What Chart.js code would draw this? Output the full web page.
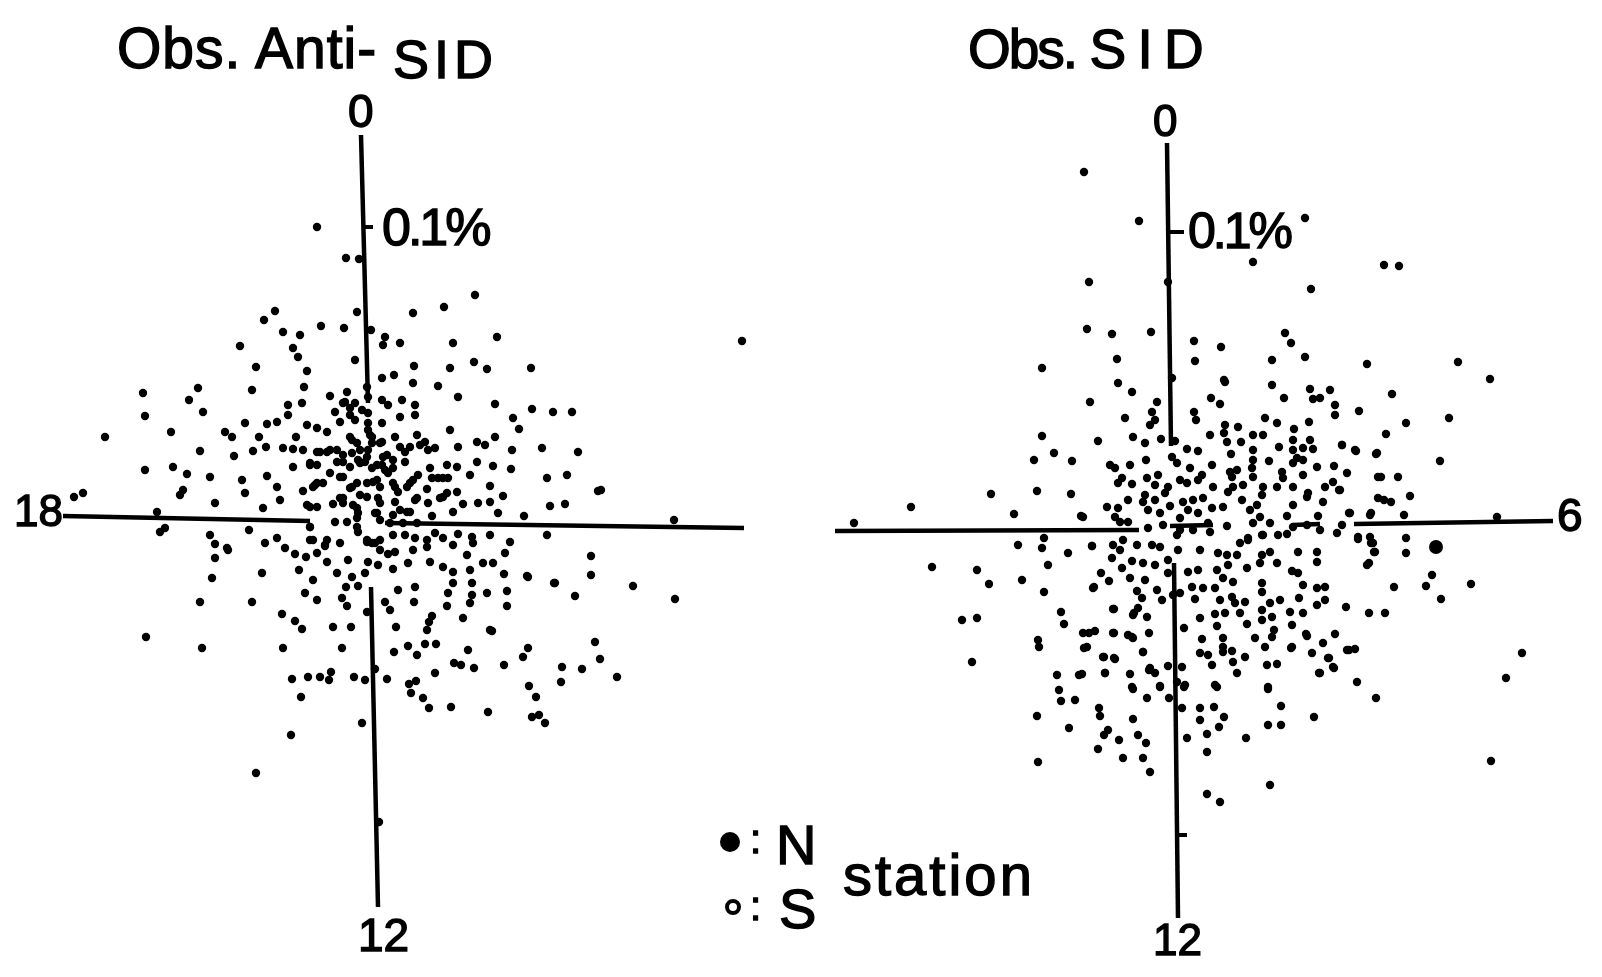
<!DOCTYPE html>
<html>
<head>
<meta charset="utf-8">
<title>Obs. Anti-SID / Obs. SID</title>
<script src="https://cdn.jsdelivr.net/npm/chart.js@4"></script>
<style>
  html, body { margin: 0; padding: 0; background: #fff; }
  #page { position: relative; width: 1602px; height: 977px; overflow: hidden; }
  canvas { position: absolute; top: 0; }
  .lbl { position: absolute; font-family: 'Liberation Sans', sans-serif; color: #000; line-height: 0; white-space: nowrap; -webkit-text-stroke: 1.4px #000; }
</style>
</head>
<body>
<div id="page">
  <canvas id="anti-sid" width="800" height="977" style="left:0"></canvas>
  <canvas id="sid" width="802" height="977" style="left:800px"></canvas>
</div>
<script>
'use strict';

// amplitude units: 295 units = 0.1 %, x towards 6h, y towards 0h
const antiSidPoints = [
  [-53,295],[-24,264],[-11,263],[105,227],[74,215],[43,209],[-13,210],[-95,211],[-106,202],[-49,196],
  [-26,194],[-87,190],[-70,187],[-130,176],[-77,174],[-72,165],[1,192],[15,185],[13,177],[30,179],
  [83,179],[127,185],[372,181],[-15,162],[104,160],[117,153],[80,154],[44,156],[161,154],[-114,155],
  [-63,151],[12,144],[24,147],
  // upper left
  [-296,25],[-287,29],[-265,85],[-227,129],[-225,106],[-213,10],[-210,-10],[-205,-6],[-225,52],[-197,55],
  [-183,48],[-190,27],[-187,32],[-160,45],[-155,19],[-170,71],[-199,90],[-181,122],[-172,134],[-167,110],
  [-118,132],[-66,135],[-68,119],[-82,117],[-82,107],[-125,99],[-103,98],[-93,100],[-145,90],[-138,85],
  [-111,85],[-74,85],[-63,97],[-53,94],[-104,75],[-117,71],[-136,66],[-87,74],[-77,73],[-67,72],
  [-53,70],[-60,57],[-77,55],[-128,42],[-103,46],[-125,29],[-93,35],[-67,31],[-55,37],[-90,22],
  [-107,14],[-60,15],[-121,-8],[-160,-13],[-155,-22],[-105,-21],[-143,-26],[-60,-5],[-60,-18],
  // upper right
  [-40,126],[-23,130],[-3,135],[-2,125],[43,139],[68,136],[88,125],[125,118],[162,113],[183,110],
  [202,110],[143,104],[149,93],[172,74],[208,70],[142,72],[125,85],[107,80],[115,77],[80,92],
  [88,75],[-25,120],[-15,119],[-35,110],[-20,107],[12,122],[18,117],[32,122],[30,105],[45,107],
  [45,117],[12,99],[-2,99],[-43,90],[-18,82],[0,87],[25,85],[47,87],[55,80],[65,74],
  [58,72],[10,79],[-50,70],[-40,72],[-27,60],[-18,69],[-2,72],[-5,60],[17,67],[12,57],
  [35,70],[35,60],[-40,49],[-27,45],[2,54],[18,49],[40,39],[48,47],[60,54],[77,57],
  [87,55],[107,60],[123,56],[141,53],[100,47],[73,44],[120,36],[177,44],[197,47],[-53,39],
  [-18,35],[3,40],[25,35],[57,33],[73,25],[87,30],[93,18],[108,19],[120,20],[133,26],
  [180,16],[195,18],[228,31],[231,32],[-37,18],[-27,24],[-13,14],[-3,25],[8,24],[25,20],
  [45,22],[58,19],[40,10],[83,10],[62,6],[128,9],[154,6],[-35,0],[-23,0],[7,9],
  [-13,-5],[23,7],[177,-13],[65,-11],[73,-16],[88,-12],[102,-15],[120,-13],[140,-20],[-30,-21],
  [-45,-23],[23,-13],[35,-13],[45,-16],[57,-18],[2,-21],[10,-18],[83,-23],[103,-21],
  // dense core
  [-27,119],[-20,114],[-15,102],[-8,112],[-2,109],[-30,100],[-2,92],[2,85],[-20,85],[-13,79],
  [-10,72],[2,79],[12,80],[-3,65],[-10,59],[-33,72],[-27,67],[-43,70],[-60,59],[-53,57],
  [-33,60],[-20,55],[-30,45],[-12,62],[7,57],[23,62],[13,65],[30,75],[40,75],[50,77],
  [15,52],[23,54],[43,42],[37,35],[68,44],[78,44],[62,44],[-57,35],[-47,39],[-20,34],
  [-13,39],[-3,39],[7,42],[10,35],[23,39],[28,30],[-10,27],[10,19],[30,12],[47,24],
  [37,10],[70,24],[77,29],[-53,15],[-63,17],[-30,24],[-27,19],[-17,17],[-12,9],[5,9],
  [10,2],[-13,4],[-12,-10],[20,-1],[33,-1],[47,-1],[-60,-5],[-57,-18],[5,-21],[-3,-18],
  // lower middle
  [-93,-16],[-85,-26],[-75,-32],[-64,-35],[-53,-31],[-43,-18],[-45,-24],[-3,-20],[10,-28],[18,-32],
  [25,-30],[43,-28],[57,-25],[97,-33],[135,-31],[113,-41],[123,-41],[100,-48],[73,-45],[83,-50],
  [60,-40],[38,-41],[23,-47],[8,-43],[-2,-40],[-5,-51],[-22,-38],[-33,-51],[-18,-55],[-43,-40],
  [-71,-48],[-57,-58],[-24,-65],[-12,-64],[28,-68],[45,-65],[83,-61],[102,-61],[134,-52],[157,-54],
  [185,-61],[117,-71],[137,-69],[102,-73],[100,-81],[78,-71],[77,-84],[137,-84],[-65,-71],[-53,-78],
  [-28,-76],[-23,-84],[15,-80],[20,-88],[44,-80],[-88,-92],[-75,-99],[-68,-107],[-37,-105],[-19,-105],
  [26,-105],[57,-108],[62,-94],[93,-96],[120,-108],[-3,-90],
  // lower outer
  [-224,-115],[-168,-126],[-170,-80],[-118,-80],[-87,-126],[-28,-126],[-158,-56],[-155,-36],[-142,-28],[-108,-51],
  [59,-100],[122,-109],[38,-124],[24,-130],[47,-133],[55,-122],[66,-122],[98,-128],[158,-126],[153,-135],
  [84,-141],[91,-143],[104,-146],[134,-143],[65,-151],[17,-157],[-5,-158],[-16,-155],[5,-147],[-39,-150],
  [-50,-155],[-62,-155],[-78,-157],[-41,-158],[-69,-175],[46,-159],[39,-162],[41,-171],[53,-176],[59,-186],
  [81,-185],[118,-190],[159,-164],[166,-175],[162,-195],[169,-193],[175,-201],[192,-145],[212,-147],[230,-137],
  [225,-120],[191,-160],[247,-155],[158,-55],[184,-61],[205,-74],[221,-53],[221,-34],[263,-64],[305,-77],
  [304,2],[-8,-201],[-79,-213],[-114,-251],[9,-300]
];

const sidPoints = [
  [-88,354],[-33,305],[133,308],[81,264],[212,261],[227,260],[139,237],[-83,244],[-4,244],[-85,197],
  [-60,192],[-21,194],[113,193],[119,183],[22,185],[49,179],[-55,167],[23,165],[100,166],[133,169],
  [-130,158],[195,162],[286,164],[318,147],[0,148],[52,146],
  // upper half
  [-54,143],[-40,134],[-82,124],[-15,124],[-20,114],[-47,108],[-22,101],[-17,106],[-74,85],[-39,89],
  [-27,83],[-11,87],[3,85],[22,114],[24,106],[39,128],[48,122],[53,144],[100,141],[112,128],
  [138,137],[158,136],[141,127],[148,128],[163,121],[163,111],[187,115],[93,108],[105,103],[137,104],
  [122,97],[66,99],[53,101],[52,93],[55,84],[69,84],[38,91],[81,91],[91,91],[107,79],
  [121,86],[131,78],[138,86],[141,77],[121,76],[170,81],[183,76],[204,72],[26,75],[15,77],
  [0,69],[5,63],[-26,66],[81,76],[81,66],[59,72],[97,65],[125,68],[121,63],[131,66],
  [-62,61],[-57,58],[-42,61],[18,58],[40,61],[58,54],[65,56],[80,58],[145,59],[162,60],
  [110,54],[111,48],[131,51],[175,53],[206,49],[-50,48],[-54,43],[-40,42],[-25,48],[-14,51],
  [-17,41],[30,51],[26,46],[8,46],[15,43],[60,49],[81,49],[41,39],[61,39],[56,34],
  [71,41],[91,39],[90,31],[105,39],[121,39],[136,33],[153,39],[161,44],[168,36],[-4,39],
  [-7,33],[-27,31],[-29,24],[-44,26],[-65,19],[-54,18],[-57,9],[-52,4],[-44,4],[-89,9],
  [-24,16],[-12,13],[-17,26],[-2,20],[11,24],[21,26],[31,28],[8,8],[16,16],[26,13],
  [40,18],[36,3],[38,-6],[51,19],[55,0],[70,26],[85,21],[78,16],[88,9],[81,3],
  [115,10],[98,3],[121,21],[135,29],[151,24],[146,10],[178,13],[198,11],[206,28],[170,1],
  [121,-1],[135,1],[148,-4],[165,-7],[-24,-2],[-9,1],[8,-4],[21,-4],[91,-9],[106,-9],
  [115,-8],[76,-12],[186,-11],[198,-11],
  // left side
  [-130,90],[-138,66],[-118,73],[-100,65],[-181,32],[-135,35],[-101,32],[-261,19],[-158,12],[-91,10],
  [-318,3],[-154,-19],[-130,-22],[-128,-12],[-104,-27],[-80,-20],[-240,-41],[-195,-44],[-183,-58],[-150,-54],
  [-124,-39],[-128,-66],[-79,-62],[-111,-86],[-108,-98],[-58,-83],[-38,-87],[-25,-91],[-210,-94],[-195,-92],
  [-83,-107],[-58,-107],[-40,-111],[-23,-107],[-134,-114],[-133,-121],[-88,-122],[-200,-136],[-29,-126],[-68,-131],
  [-58,-132],[-115,-149],[-93,-149],[-67,-147],[-23,-144],[-113,-164],[-111,-175],[-97,-174],[-39,-163],[-12,-161],
  [-25,-172],[-3,-172],[12,-161],[45,-161],[96,-163],[-73,-182],[-72,-190],[-135,-190],[-39,-193],[10,-182],
  [28,-182],[42,-181],[52,-191],[47,-201],[28,-194],[109,-180],[142,-191],[96,-199],[109,-199],[-103,-202],
  [-64,-204],[-68,-209],[-53,-214],[-34,-209],[-26,-217],[35,-208],[15,-212],[74,-212],[-74,-223],[-49,-232],
  [-29,-232],[35,-226],[-134,-236],[-22,-246],[98,-259],[35,-268],[48,-276],
  // lower half
  [-80,-20],[-59,-19],[-49,-14],[-35,-19],[-20,-19],[-12,-21],[-52,-24],[-60,-32],[-40,-35],[-50,-42],
  [-29,-37],[-17,-39],[-71,-47],[-63,-55],[-42,-52],[-27,-54],[-78,-61],[-35,-65],[-30,-72],[-15,-64],
  [-10,-74],[-4,-34],[6,-24],[5,-9],[28,-24],[68,-17],[76,-14],[90,-9],[46,-27],[55,-29],
  [65,-29],[90,-29],[98,-26],[126,-26],[145,-26],[145,-36],[88,-37],[105,-37],[56,-39],[45,-44],
  [75,-42],[120,-45],[126,-47],[201,-17],[203,-26],[195,-39],[16,-46],[26,-44],[-4,-47],[51,-52],
  [61,-56],[90,-57],[90,-66],[131,-59],[145,-62],[153,-61],[20,-61],[31,-62],[43,-62],[8,-67],
  [1,-69],[23,-73],[48,-74],[60,-71],[63,-77],[73,-76],[68,-87],[108,-74],[98,-77],[127,-72],
  [153,-74],[145,-79],[174,-81],[197,-87],[90,-84],[90,-94],[100,-91],[118,-86],[120,-99],[131,-87],
  [-59,-83],[-34,-82],[-39,-89],[28,-92],[43,-88],[53,-87],[45,-100],[75,-98],[102,-104],[12,-102],
  [-77,-105],[-89,-107],[-59,-107],[-44,-109],[-39,-112],[30,-113],[51,-112],[51,-121],[83,-112],[100,-111],
  [93,-121],[135,-110],[163,-108],[151,-117],[120,-121],[-85,-121],[-69,-131],[-57,-133],[-29,-126],[28,-127],
  [36,-129],[51,-126],[60,-125],[73,-131],[61,-136],[140,-127],[156,-132],[175,-124],[183,-123],[-4,-140],
  [10,-141],[40,-139],[65,-147],[95,-139],[105,-138],[161,-141],[148,-147],[-67,-147],[-42,-148],[-90,-148],
  [-22,-142],[-17,-147],[43,-159],[96,-161],[185,-156],[-40,-161],[-12,-160],[13,-159],[5,-156],
  // right side
  [147,-147],[162,-142],[157,-132],[177,-124],[119,-122],[134,-108],[204,-172],[199,-17],[202,-26],[234,-12],
  [234,-27],[186,-13],[197,-37],[222,-61],[254,-60],[260,-49],[269,-73],[299,-58],[213,-87],[334,-152],
  [350,-127],[319,-235],[212,26],[238,30],[219,24],[199,13],[177,13],[232,11],[325,9],[167,36],
  [209,49],[226,49],[220,132],[234,103],[214,92],[277,108],[268,65],[184,75],[205,73],[170,81]
];

const sidLargePoints = [[264,-21]];
const stationN = [[360,-320]];
const stationS = [[363,-385]];

// axis arms, broken where the dots crowd them
const antiSidArms = [
  [[-9,387],[-2,119]],[[1,-65],[8,-385]],
  [[-307,6],[-60,1]],[[15,-1],[374,-6]]
];
const sidArms = [
  [[-5,383],[-1,80]],[[2,-37],[6,-392]],
  [[-337,-5],[-33,-4]],[[-2,0],[41,1]],[[121,1],[148,2]],[[182,2],[381,5]]
];
const antiSidTicks = [[[-7,295],[3,295]]];
const sidTicks = [[[-3,294],[12,294]],[[3,-309],[15,-309]]];

// text labels: text, left, baseline, font px, letter spacing px
const labels = [
  ['Obs. Anti-', 117, 68, 57, 1],
  ['S I D', 393, 78, 54, -5],
  ['0', 348, 127, 46, 0],
  ['0.1%', 382, 245, 52, -3],
  ['12', 358, 951, 46, 0],
  ['18', 14, 526, 44, 0],
  ['Obs. S I D', 968, 68, 55, -2],
  ['0', 1153, 136, 44, 0],
  ['0.1%', 1188, 248, 50, -3],
  ['12', 1153, 955, 44, 0],
  ['6', 1557, 531, 46, 0],
  [':', 750, 853, 40, 0],
  ['N', 776, 865, 56, 0],
  [':', 750, 920, 40, 0],
  ['S', 779, 929, 56, 0],
  ['station', 843, 895, 58, 3]
];

const page = document.getElementById('page');
labels.forEach(([text, left, base, size, spacing]) => {
  const el = document.createElement('div');
  el.className = 'lbl';
  el.textContent = text;
  // line-height 0 puts the box centre on the text's middle, so shift up to baseline
  el.style.left = left + 'px';
  el.style.top = (base - size * 0.35) + 'px';
  el.style.fontSize = size + 'px';
  el.style.letterSpacing = spacing + 'px';
  page.appendChild(el);
});

const toXY = p => ({ x: p[0], y: p[1] });

function dots(points, radius, hollow) {
  return {
    data: points.map(toXY),
    showLine: false,
    pointStyle: 'circle',
    pointRadius: radius,
    pointBackgroundColor: hollow ? '#fff' : '#000',
    pointBorderColor: '#000',
    pointBorderWidth: hollow ? 4 : 0,
  };
}

function segment(points, width) {
  return {
    data: points.map(toXY),
    showLine: true,
    borderColor: '#000',
    borderWidth: width,
    pointRadius: 0,
  };
}

function renderPanel(canvasId, xRange, yRange, datasets) {
  return new Chart(document.getElementById(canvasId), {
    type: 'scatter',
    data: { datasets },
    options: {
      responsive: false,
      animation: false,
      layout: { padding: 0, autoPadding: false },
      plugins: { legend: { display: false }, tooltip: { enabled: false } },
      scales: {
        x: { type: 'linear', display: false, min: xRange[0], max: xRange[1] },
        y: { type: 'linear', display: false, min: yRange[0], max: yRange[1] },
      },
    },
  });
}

renderPanel('anti-sid', [-370, 430], [-455, 522], [
  ...antiSidArms.map(a => segment(a, 4.5)),
  ...antiSidTicks.map(a => segment(a, 4)),
  dots(antiSidPoints, 4.2),
  dots(stationN, 10),
  dots(stationS, 6, true),
]);

renderPanel('sid', [-372, 430], [-451, 526], [
  ...sidArms.map(a => segment(a, 4.5)),
  ...sidTicks.map(a => segment(a, 4)),
  dots(sidPoints, 4.2),
  dots(sidLargePoints, 7),
]);
</script>
</body>
</html>
